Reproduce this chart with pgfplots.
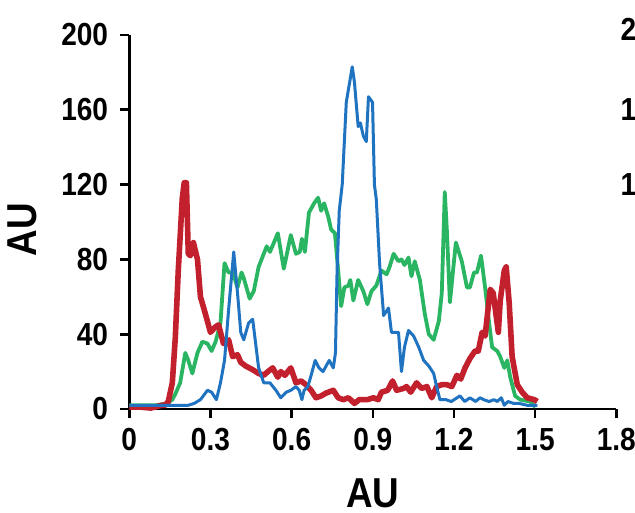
\documentclass[border=0pt]{standalone}
\usepackage{fontspec}
\setmainfont{Liberation Sans}[FakeStretch=0.88]
\usepackage{pgfplots}
\pgfplotsset{compat=1.18}
\definecolor{cred}{RGB}{193,32,44}
\definecolor{cgreen}{RGB}{42,181,98}
\definecolor{cblue}{RGB}{31,115,192}
\begin{document}
\begin{tikzpicture}[x=1bp,y=1bp]
\begin{axis}[
 scale only axis, width=487bp, height=374bp,
 xmin=0,xmax=1.8,ymin=0,ymax=200,
 axis x line=bottom, axis y line=left,
 axis line style={-, line width=2.6bp, black},
 xtick={0,0.3,0.6,0.9,1.2,1.5,1.8},
 xticklabels={0,0.3,0.6,0.9,1.2,1.5,1.8},
 ytick={0,40,80,120,160,200},
 yticklabels={0,40,80,120,160,200},
 tick align=outside,
 major tick length=9bp,
 every tick/.style={black, line width=2.6bp},
 tick label style={font=\fontsize{32}{32}\selectfont\bfseries, inner sep=0pt},
 xticklabel style={anchor=north, yshift=-10bp},
 yticklabel style={anchor=east, xshift=-12bp},
 /pgf/number format/assume math mode=true,
 xlabel={AU}, ylabel={AU},
 every axis x label/.style={at={(rel axis cs:0.5,0)}, yshift=-84bp, anchor=center, inner sep=0pt, font=\fontsize{42}{42}\selectfont\bfseries},
 every axis y label/.style={at={(rel axis cs:0,0.479)}, xshift=-107bp, rotate=90, anchor=center, inner sep=0pt, font=\fontsize{42}{42}\selectfont\bfseries},
 clip=false,
]
\coordinate (O) at (rel axis cs:0,0);
\addplot[cgreen, line width=3.8bp, line join=round] coordinates {
(0,2)(0.05,2)(0.1,2)(0.14,3)(0.159,5)(0.170,8)(0.188,14)(0.207,30)(0.218,26)(0.233,19)
(0.252,30)(0.270,36)(0.289,35)(0.304,31)(0.319,36)(0.337,46)(0.352,78)(0.367,73)(0.382,73)
(0.400,65)(0.415,73)(0.423,70)(0.445,59)(0.460,63)(0.478,76)(0.497,83)(0.508,87)(0.52,84)
(0.549,94)(0.571,75)(0.597,93)(0.616,83)(0.63,84)(0.638,91)(0.649,84)(0.664,105)(0.683,110)
(0.698,113)(0.709,106)(0.720,110)(0.735,103)(0.746,96)(0.76,94)(0.772,74)(0.783,55)(0.795,65)
(0.81,66)(0.817,69)(0.828,58)(0.846,69)(0.865,63)(0.880,56)(0.895,63)(0.913,66)(0.932,74)
(0.951,72)(0.962,76)(0.977,83)(0.995,79)(1.006,80)(1.017,77)(1.032,81)(1.043,71)(1.055,79)
(1.074,69)(1.092,51)(1.107,40)(1.125,37)(1.144,47)(1.155,62)(1.166,116)(1.174,95)(1.185,57)
(1.207,89)(1.229,79)(1.248,65)(1.259,65)(1.274,73)(1.285,73)(1.300,82)(1.315,65)(1.330,46)
(1.341,33)(1.360,31)(1.371,28)(1.386,22)(1.397,26)(1.408,17)(1.426,7)(1.445,5)(1.482,4)(1.501,1)
};
\addplot[cred, line width=5.6bp, line join=round] coordinates {
(0.0,1)(0.04,1)(0.08,0.5)(0.12,2)(0.133,2)(0.144,4)(0.159,14)(0.170,38)(0.181,74)(0.196,113)
(0.203,121)(0.211,121)(0.218,83)(0.226,82)(0.237,89)(0.252,80)(0.263,60)(0.281,51)(0.300,41)
(0.319,44)(0.330,45)(0.348,35)(0.367,37)(0.382,28)(0.400,29)(0.412,25)(0.430,23)(0.456,21)
(0.478,19)(0.497,18)(0.504,19)(0.530,22)(0.549,17)(0.56,20)(0.575,18)(0.597,22)(0.616,14)
(0.635,15)(0.653,13)(0.672,10)(0.690,6)(0.709,7)(0.727,8.5)(0.754,10)(0.772,6)(0.791,5)
(0.81,6)(0.832,3)(0.85,5)(0.88,5)(0.902,6)(0.92,5)(0.932,9)(0.955,10)(0.973,15)(0.988,10)
(1.014,11)(1.025,12)(1.04,9)(1.062,14)(1.08,11)(1.10,12)(1.118,6)(1.136,12)(1.155,13)(1.174,13)
(1.192,12)(1.211,18)(1.225,16)(1.241,22)(1.259,27)(1.278,31)(1.29,31)(1.304,41)(1.315,39)
(1.334,64)(1.345,62)(1.364,41)(1.371,58)(1.386,74)(1.393,76)(1.404,57)(1.415,28)(1.434,13)
(1.452,9)(1.471,6)(1.497,5)(1.508,4)
};
\addplot[cblue, line width=3bp, line join=round] coordinates {
(0,2)(0.05,2)(0.1,2)(0.15,2)(0.218,2)(0.24,3)(0.263,5)(0.289,10)(0.304,9)(0.322,5)(0.337,14)
(0.352,26)(0.367,53)(0.386,84)(0.400,62)(0.412,41)(0.423,37)(0.441,46)(0.456,48)(0.467,35)
(0.478,22)(0.497,14)(0.52,14)(0.542,10)(0.560,6)(0.58,9)(0.597,10)(0.616,12)(0.628,10)(0.638,5)
(0.646,10)(0.660,12)(0.672,18)(0.687,26)(0.701,22)(0.716,20)(0.739,26)(0.754,22)(0.762,30)
(0.768,74)(0.776,106)(0.787,120)(0.802,164)(0.824,183)(0.832,175)(0.846,151)(0.854,153)
(0.865,146)(0.876,143)(0.884,167)(0.899,164)(0.906,120)(0.913,112)(0.925,78)(0.940,50)
(0.958,54)(0.969,41)(0.980,41)(0.995,41)(1.006,20)(1.017,33)(1.032,42)(1.051,39)(1.070,33)
(1.088,26)(1.107,23)(1.125,19)(1.136,12)(1.148,5)(1.17,5)(1.19,4)(1.222,7)(1.24,4)(1.259,6)
(1.28,4)(1.296,6)(1.31,5)(1.33,4)(1.348,5)(1.36,4)(1.375,6)(1.386,2)(1.40,4)(1.42,3)(1.44,3)
(1.47,2)(1.508,2)
};
\node[anchor=west, inner sep=0pt, font=\fontsize{32}{32}\selectfont\bfseries] at (axis cs:1.8,200) [xshift=4bp,yshift=5bp] {200};
\node[anchor=west, inner sep=0pt, font=\fontsize{32}{32}\selectfont\bfseries] at (axis cs:1.8,160) [xshift=4bp] {160};
\node[anchor=west, inner sep=0pt, font=\fontsize{32}{32}\selectfont\bfseries] at (axis cs:1.8,120) [xshift=4bp] {120};
\end{axis}
\pgfresetboundingbox
\path[use as bounding box] (O) ++(-129.3bp,-104bp) rectangle ++(635bp,513bp);
\end{tikzpicture}
\end{document}
